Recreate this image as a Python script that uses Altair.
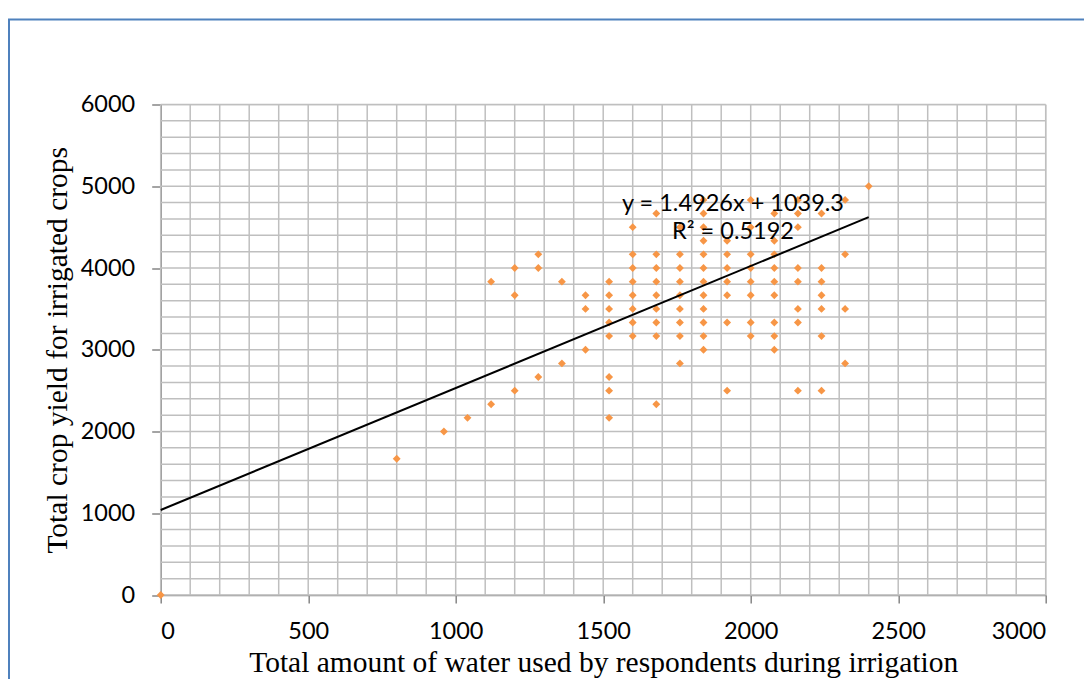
import altair as alt
import pandas as pd

# ---- data ----
water_cols = [0, 800, 960, 1040, 1120, 1200, 1280, 1360, 1440, 1520, 1600,
              1680, 1760, 1840, 1920, 2000, 2080, 2160, 2240, 2320, 2400]
yield_by_col = [
    [0],
    [1667],
    [2000],
    [2167],
    [2333, 3833],
    [2500, 3667, 4000],
    [2667, 4000, 4167],
    [2833, 3833],
    [3000, 3500, 3667],
    [2167, 2500, 2667, 3167, 3333, 3500, 3667, 3833],
    [3167, 3333, 3500, 3667, 3833, 4000, 4167, 4500],
    [2333, 3167, 3333, 3500, 3667, 3833, 4000, 4167, 4667],
    [2833, 3167, 3333, 3500, 3667, 3833, 4000, 4167, 4500],
    [3000, 3167, 3333, 3500, 3667, 3833, 4000, 4167, 4333, 4500, 4667, 4833],
    [2500, 3333, 3667, 3833, 4000, 4167, 4333],
    [3167, 3333, 3667, 3833, 4000, 4167, 4500, 4833],
    [3000, 3167, 3333, 3667, 3833, 4000, 4167, 4333, 4667],
    [2500, 3333, 3500, 3833, 4000, 4500, 4667, 4833],
    [2500, 3167, 3500, 3667, 3833, 4000, 4667],
    [2833, 3500, 4167, 4833],
    [5000],
]

slope = 1.4926
intercept = 1039.3
trend_x = [0, 2400]

x_ticks = [0, 500, 1000, 1500, 2000, 2500, 3000]
y_ticks = [0, 1000, 2000, 3000, 4000, 5000, 6000]
x_grid = list(range(0, 3001, 100))
y_grid = list(range(0, 6001, 200))

label_texts = ["y = 1.4926x + 1039.3", "R² = 0.5192"]
label_x = [1940, 1940]
label_y = [4700, 4350]

x_title = "Total amount of water used by respondents  during irrigation"
y_title = "Total crop yield for irrigated crops"

# ---- tables ----
rows = []
for xv, ys in zip(water_cols, yield_by_col):
    for yv in ys:
        rows.append({"water": xv, "yield": yv})
pts = pd.DataFrame(rows)
trend = pd.DataFrame({"water": trend_x,
                      "yield": [slope * v + intercept for v in trend_x]})
xg = pd.DataFrame({"water": x_grid})
yg = pd.DataFrame({"yield": y_grid})
labels = pd.DataFrame({"water": label_x, "yield": label_y, "txt": label_texts})

W, H = 885, 490.5
GRID = "#BFBFBF"
AXC = "#868686"
LABEL_FS = 23.5

xscale = alt.Scale(domain=[0, 3000], nice=False, zero=False)
yscale = alt.Scale(domain=[0, 6000], nice=False, zero=False)

x_axis = alt.Axis(values=x_ticks, grid=False, title=x_title, format="d",
                  labelFont="Lato", labelFontSize=LABEL_FS, labelColor="black",
                  labelPadding=16, tickSize=8, tickColor=AXC, tickWidth=1.5,
                  domainColor=AXC, domainWidth=1.5,
                  titleFont="Liberation Serif", titleFontSize=29.5,
                  titleFontWeight="normal", titleColor="black",
                  titleX=W / 2, titleY=76.5, titleBaseline="alphabetic",
                  titleAlign="center")
y_axis = alt.Axis(values=y_ticks, grid=False, title=y_title, format="d",
                  labelFont="Lato", labelFontSize=LABEL_FS, labelColor="black",
                  labelPadding=17, tickSize=9, tickColor=AXC, tickWidth=1.5,
                  domainColor=AXC, domainWidth=1.5,
                  titleFont="Liberation Serif", titleFontSize=29.5,
                  titleFontWeight="normal", titleColor="black",
                  titleX=-94.7, titleY=H / 2, titleAngle=270,
                  titleBaseline="alphabetic", titleAlign="center")

X = alt.X("water:Q", scale=xscale, axis=x_axis)
Y = alt.Y("yield:Q", scale=yscale, axis=y_axis)

vgrid = alt.Chart(xg).mark_rule(color=GRID, strokeWidth=1.5).encode(x=X)
hgrid = alt.Chart(yg).mark_rule(color=GRID, strokeWidth=1.5).encode(y=Y)

points = alt.Chart(pts).mark_point(shape="diamond", filled=True, size=62,
                                   color="#F79646", opacity=1).encode(x=X, y=Y)

line = alt.Chart(trend).mark_line(color="black", strokeWidth=2).encode(x=X, y=Y)

eq = alt.Chart(labels).mark_text(font="Lato", fontSize=LABEL_FS, color="black",
                                 align="center", baseline="alphabetic").encode(
    x=X, y=Y, text="txt:N")

one = pd.DataFrame({"k": [0]})
FRAME = "#4F81BD"
frame_left = alt.Chart(one).mark_rule(color=FRAME, strokeWidth=2).encode(
    x=alt.value(-151.7), y=alt.value(-85), y2=alt.value(600))
frame_top = alt.Chart(one).mark_rule(color=FRAME, strokeWidth=2).encode(
    x=alt.value(-152.7), x2=alt.value(940), y=alt.value(-85))

chart = alt.layer(vgrid, hgrid, points, line, eq, frame_left, frame_top).properties(
    width=W, height=H,
    autosize=alt.AutoSizeParams(type="none"),
    padding={"left": 152.7, "top": 96.5, "right": 38.3, "bottom": 84},
).configure_view(stroke=None).configure(background="white")

chart.save("out.html", embed_options={"renderer": "svg", "actions": False})
